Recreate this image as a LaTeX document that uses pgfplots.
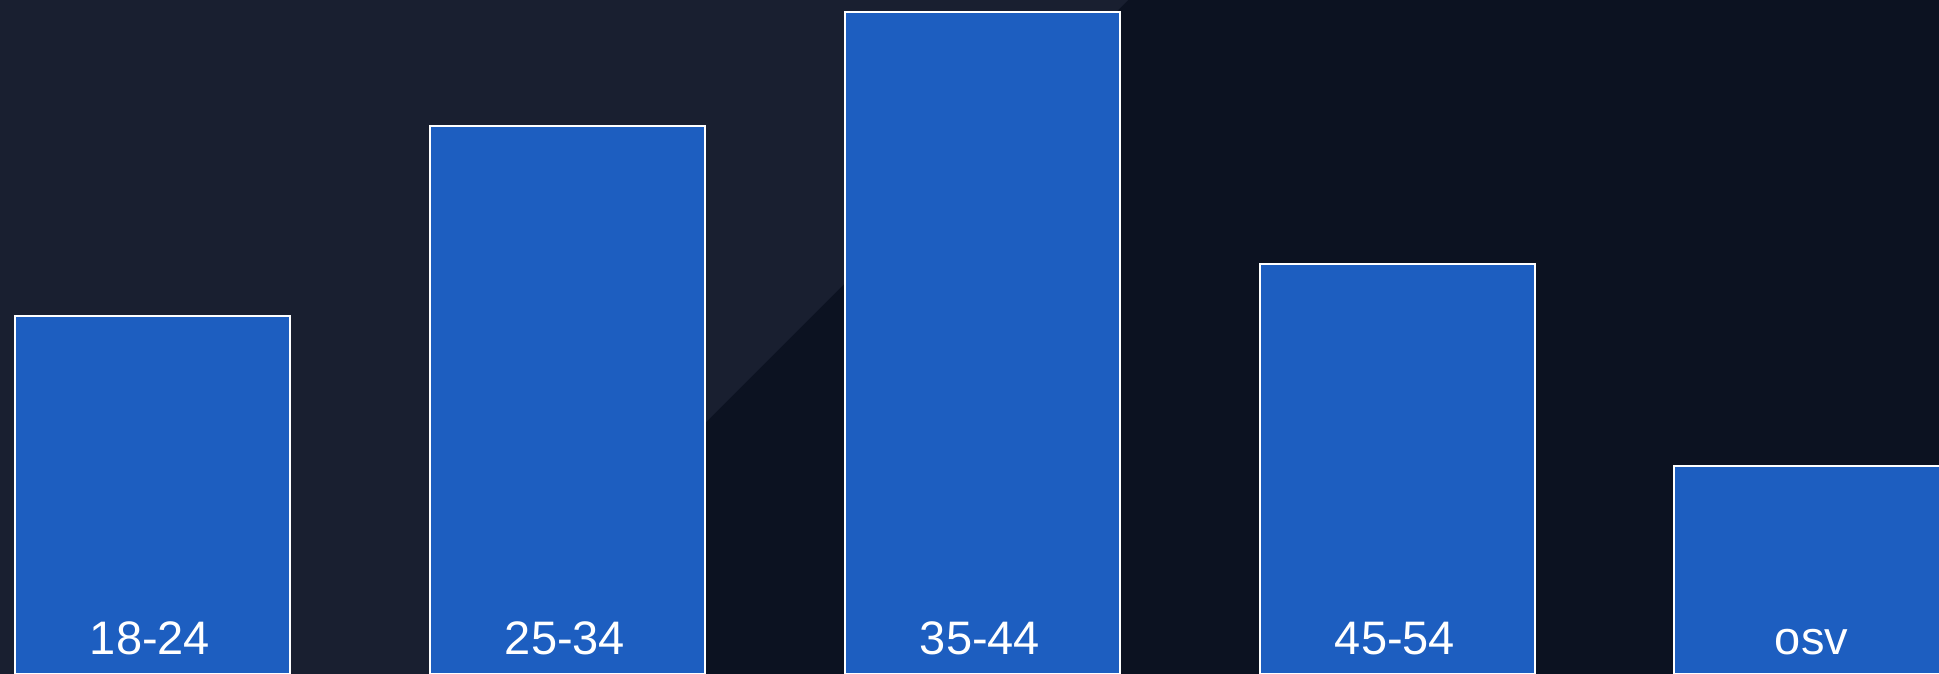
\documentclass[border=0pt]{standalone}
\usepackage{pgfplots}
\pgfplotsset{compat=1.18}
\usepackage{fontspec}
\setmainfont{Liberation Sans}

\definecolor{bgdark}{RGB}{12,18,33}
\definecolor{bglight}{RGB}{25,31,48}
\definecolor{barblue}{RGB}{29,94,192}

% one unit = one pixel of the 1939x674 reference, 0.25pt each
\begin{document}
\begin{tikzpicture}
\begin{axis}[
    set layers,
    width=484.75pt, height=168.5pt,
    scale only axis,
    hide axis,
    xmin=0, xmax=1939,
    ymin=0, ymax=674,
    clip=true,
]
\begin{pgfonlayer}{axis background}
  \fill[bgdark] (axis cs:0,0) rectangle (axis cs:1939,674);
  \fill[bglight] (axis cs:0,0) -- (axis cs:0,674) -- (axis cs:1128,674)
      -- (axis cs:454,0) -- cycle;
\end{pgfonlayer}

% bar heights (px above the bottom edge)
\addplot[ybar, bar width=68.75pt, fill=barblue, draw=white, line width=0.5pt]
  coordinates {
    (152.5,357.6)
    (567,547.6)
    (982,661.5)
    (1397,409.6)
    (1811.5,207.6)
  };

% category labels inside the bars
\addplot[draw=none, mark=none,
    nodes near coords, point meta=explicit symbolic,
    nodes near coords style={anchor=base, text=white, inner sep=0pt,
      font=\fontsize{11.75}{14}\selectfont}]
  coordinates {
    (150,19) [18-24]
    (565,19) [25-34]
    (980,19) [35-44]
    (1395,19) [45-54]
    (1811.5,19) [osv]
  };
\end{axis}
\end{tikzpicture}
\end{document}
